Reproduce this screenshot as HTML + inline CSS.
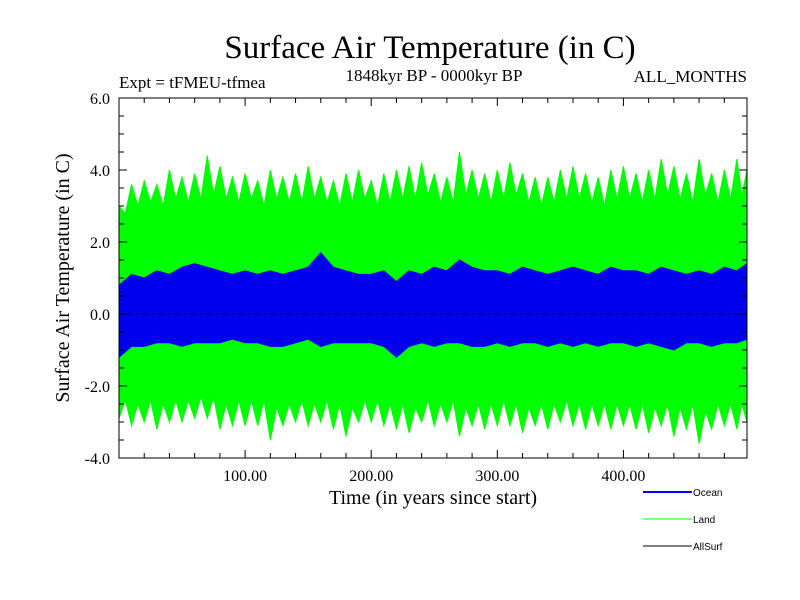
<!DOCTYPE html>
<html><head><meta charset="utf-8"><style>
body{margin:0;background:#fff}
svg{display:block}
text{font-family:"Liberation Serif",serif;fill:#000}
.leg{font-family:"Liberation Sans",sans-serif;font-size:10px}
</style></head><body>
<svg id="chart" width="800" height="600" viewBox="0 0 800 600" xmlns="http://www.w3.org/2000/svg">
<rect width="800" height="600" fill="#fff"/>
<text x="430" y="58" font-size="33" text-anchor="middle">Surface Air Temperature (in C)</text>
<text x="434" y="81" font-size="17" text-anchor="middle">1848kyr BP - 0000kyr BP</text>
<text x="119" y="88" font-size="17">Expt = tFMEU-tfmea</text>
<text x="747" y="82" font-size="17" text-anchor="end">ALL_MONTHS</text>
<text transform="translate(69,278) rotate(-90)" font-size="20" text-anchor="middle">Surface Air Temperature (in C)</text>
<text x="433" y="504" font-size="20" text-anchor="middle">Time (in years since start)</text>
<g id="plot"></g>
<g id="axes"></g>
<g>
<g><line x1="643" y1="492" x2="692" y2="492" stroke="#0000ff" stroke-width="2"/><text class="leg" x="693" y="496">Ocean</text></g>
<g><line x1="643" y1="519" x2="692" y2="519" stroke="#00ff00" stroke-width="1"/><text class="leg" x="693" y="523">Land</text></g>
<g><line x1="643" y1="546" x2="692" y2="546" stroke="#000" stroke-width="1"/><text class="leg" x="693" y="550">AllSurf</text></g>
</g>
</svg>
<script>
const years=[0,10,20,30,40,50,60,70,80,90,100,110,120,130,140,150,160,170,180,190,200,210,220,230,240,250,260,270,280,290,300,310,320,330,340,350,360,370,380,390,400,410,420,430,440,450,460,470,480,490,498];
const landPeak=[3.0,3.6,3.7,3.6,4.0,3.8,3.9,4.4,4.1,3.8,3.9,3.7,4.0,3.8,3.9,4.1,3.8,3.7,3.9,4.0,3.7,3.9,4.0,4.1,4.2,3.9,3.8,4.5,4.0,3.9,4.0,4.2,3.9,3.8,3.8,4.0,4.1,3.9,3.8,4.0,4.1,3.9,4.0,4.3,4.1,3.9,4.3,3.9,4.0,4.3,4.0];
const landBase=[2.8,3.0,3.1,3.0,3.2,3.1,3.2,3.3,3.2,3.1,3.2,3.0,3.2,3.1,3.1,3.2,3.1,3.0,3.1,3.2,3.0,3.1,3.2,3.2,3.3,3.1,3.1,3.3,3.2,3.1,3.2,3.3,3.1,3.0,3.1,3.2,3.2,3.1,3.0,3.2,3.2,3.1,3.2,3.3,3.2,3.1,3.3,3.1,3.2,3.3,3.1];
const landTrough=[-2.9,-3.1,-3.0,-3.2,-3.0,-3.0,-2.9,-2.9,-3.2,-3.1,-3.1,-3.1,-3.5,-3.1,-3.0,-3.1,-3.0,-3.2,-3.4,-3.0,-3.0,-3.1,-3.2,-3.3,-3.0,-3.1,-3.0,-3.4,-3.1,-3.2,-3.1,-3.1,-3.3,-3.1,-3.2,-3.0,-3.1,-3.2,-3.1,-3.2,-3.1,-3.2,-3.3,-3.1,-3.4,-3.2,-3.6,-3.2,-3.1,-3.2,-3.0];
const landLowBase=[-2.4,-2.5,-2.4,-2.5,-2.4,-2.4,-2.3,-2.3,-2.5,-2.4,-2.4,-2.4,-2.6,-2.5,-2.4,-2.5,-2.4,-2.5,-2.6,-2.4,-2.4,-2.5,-2.5,-2.6,-2.4,-2.5,-2.4,-2.6,-2.5,-2.5,-2.4,-2.5,-2.6,-2.5,-2.5,-2.4,-2.5,-2.5,-2.5,-2.5,-2.5,-2.5,-2.6,-2.5,-2.6,-2.5,-2.7,-2.5,-2.5,-2.5,-2.4];
const oceanHi=[0.8,1.1,1.0,1.2,1.1,1.3,1.4,1.3,1.2,1.1,1.2,1.1,1.2,1.1,1.2,1.3,1.7,1.3,1.2,1.1,1.1,1.2,0.9,1.2,1.1,1.3,1.2,1.5,1.3,1.2,1.2,1.1,1.3,1.2,1.1,1.2,1.3,1.2,1.1,1.3,1.2,1.2,1.1,1.3,1.2,1.1,1.2,1.1,1.3,1.2,1.4];
const oceanLo=[-1.2,-0.9,-0.9,-0.8,-0.8,-0.9,-0.8,-0.8,-0.8,-0.7,-0.8,-0.8,-0.9,-0.9,-0.8,-0.7,-0.9,-0.8,-0.8,-0.8,-0.8,-0.9,-1.2,-0.9,-0.8,-0.9,-0.8,-0.8,-0.9,-0.9,-0.8,-0.9,-0.8,-0.8,-0.9,-0.8,-0.9,-0.8,-0.9,-0.8,-0.8,-0.9,-0.8,-0.9,-1.0,-0.8,-0.8,-0.9,-0.8,-0.8,-0.7];
const yTicks=[-4,-2,0,2,4,6];
const yTickLabels=["-4.0","-2.0","0.0","2.0","4.0","6.0"];
const xTicks=[100,200,300,400];
const xTickLabels=["100.00","200.00","300.00","400.00"];

const X0=119,X1=747,Y0=458,Y1=98;
const xMin=0,xMax=498,yMin=-4,yMax=6;
const sx=v=>X0+(v-xMin)/(xMax-xMin)*(X1-X0);
const sy=v=>Y0-(v-yMin)/(yMax-yMin)*(Y0-Y1);
const NS="http://www.w3.org/2000/svg";
const plotG=document.getElementById('plot'),axesG=document.getElementById('axes');
function mk(t,a,p){const e=document.createElementNS(NS,t);for(const k in a)e.setAttribute(k,a[k]);p.appendChild(e);return e;}

function zig(peaks,bases){
  const pts=[];
  for(let i=0;i<years.length;i++){
    pts.push([sx(years[i]),sy(peaks[i])]);
    if(i<years.length-1){pts.push([sx((years[i]+years[i+1])/2),sy(bases[i])]);}
  }
  return pts;
}
const landTopPts=zig(landPeak,landBase), landBotPts=zig(landTrough,landLowBase);
const landPts=landTopPts.concat(landBotPts.reverse()).map(p=>p.join(',')).join(' ');
const land=mk('polygon',{points:landPts,fill:'#00ff00',stroke:'#00ff00','stroke-width':1},plotG);



const oTop=years.map((y,i)=>[sx(y),sy(oceanHi[i])]);
const oBot=years.map((y,i)=>[sx(y),sy(oceanLo[i])]).reverse();
const ocean=mk('polygon',{points:oTop.concat(oBot).map(p=>p.join(',')).join(' '),fill:'#0000ee',stroke:'#0000ee','stroke-width':1},plotG);



const zl=mk('line',{x1:X0,x2:X1,y1:sy(0),y2:sy(0),stroke:'#000','stroke-dasharray':'5,3','stroke-width':0.8},plotG);



const frame=mk('rect',{x:X0,y:Y1,width:X1-X0,height:Y0-Y1,fill:'none',stroke:'#000','stroke-width':1},axesG);



for(let v=yMin;v<=yMax+1e-9;v+=0.5){
  const major=Math.abs(v-Math.round(v/2)*2)<1e-9;
  const L=major?8:5;
  mk('line',{x1:X0,x2:X0+L,y1:sy(v),y2:sy(v),stroke:'#000'},axesG);
  mk('line',{x1:X1,x2:X1-L,y1:sy(v),y2:sy(v),stroke:'#000'},axesG);
}
yTicks.forEach((v,i)=>{
  const t=mk('text',{x:X0-9,y:sy(v)+6,'font-size':16,'text-anchor':'end'},axesG);
  t.textContent=yTickLabels[i];
  
  
});
for(let v=20;v<xMax;v+=20){
  const major=v%100===0;const L=major?8:5;
  mk('line',{x1:sx(v),x2:sx(v),y1:Y0,y2:Y0-L,stroke:'#000'},axesG);
  mk('line',{x1:sx(v),x2:sx(v),y1:Y1,y2:Y1+L,stroke:'#000'},axesG);
}
xTicks.forEach((v,i)=>{
  const t=mk('text',{x:sx(v),y:Y0+23,'font-size':16,'text-anchor':'middle'},axesG);
  t.textContent=xTickLabels[i];
  
  
});
</script>
</body></html>
